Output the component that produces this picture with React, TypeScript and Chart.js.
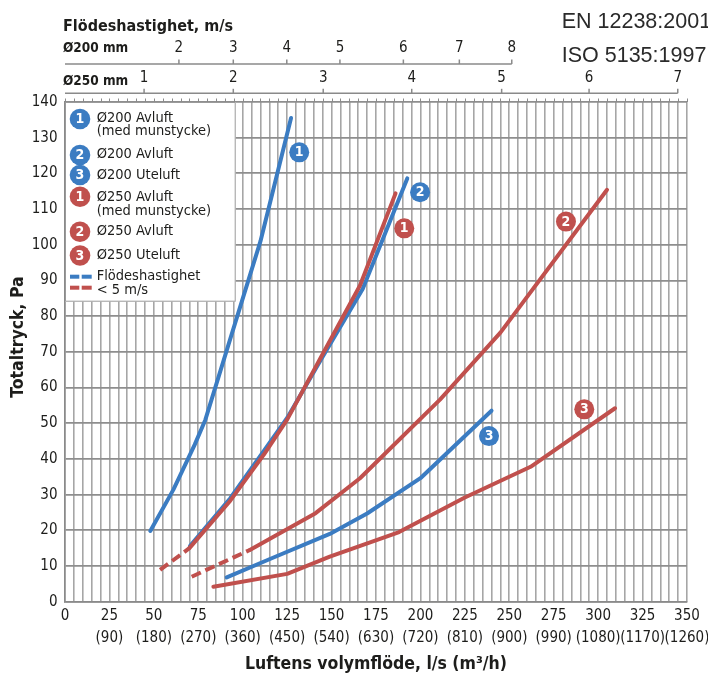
import { useEffect, useRef } from 'react';
import { Chart, registerables } from 'chart.js';

Chart.register(...registerables);

// ---------- data ----------
const flowLabelValues = [0, 25, 50, 75, 100, 125, 150, 175, 200, 225, 250, 275, 300, 325, 350];
const flowLabelM3h = ['', '(90)', '(180)', '(270)', '(360)', '(450)', '(540)', '(630)', '(720)', '(810)', '(900)', '(990)', '(1080)', '(1170)', '(1260)'];
const flowGridStep = 5;
const pressureTicks = [0, 10, 20, 30, 40, 50, 60, 70, 80, 90, 100, 110, 120, 130, 140];

// top velocity axes (velocity label, flow in l/s where it sits)
const v200Labels = ['2', '3', '4', '5', '6', '7', '8'];
const v200Flows = [64.1, 94.7, 124.8, 154.7, 190.4, 221.9, 251.4];
const v250Labels = ['1', '2', '3', '4', '5', '6', '7'];
const v250Flows = [44.5, 94.7, 145.3, 195.1, 245.7, 294.9, 344.8];

// curves (flow l/s, pressure Pa)
const blue1X = [48, 61, 73, 79, 92, 110, 127.2];
const blue1Y = [19.8, 31.4, 44, 51, 72, 101, 135.5];
const blue2X = [70.3, 93, 112, 125, 144, 167.5, 192.6];
const blue2Y = [15.6, 29, 42.3, 51.5, 67.8, 87.6, 118.6];
const blue3X = [91, 115, 149, 170, 200, 240];
const blue3Y = [6.8, 11.9, 19, 24.7, 34.6, 53.5];
const red1DashX = [53.5, 70];
const red1DashY = [8.9, 15];
const red1X = [70, 93, 112, 125, 143.5, 166, 186];
const red1Y = [15, 28.3, 41.3, 51, 68, 88.6, 114.4];
const red2DashX = [71.3, 104];
const red2DashY = [7, 14.5];
const red2X = [104, 141, 166, 211, 245, 305];
const red2Y = [14.5, 24.8, 34.6, 56.6, 75.4, 115.4];
const red3X = [83.5, 125, 149, 188, 225, 262, 309.5];
const red3Y = [4.2, 7.8, 12.6, 19.5, 29.2, 37.8, 54.2];

// numbered tags on the curves
const tagX = [131.8, 199.8, 238.6, 190.9, 281.9, 292.2];
const tagY = [125.9, 114.7, 46.4, 104.6, 106.5, 53.9];
const tagNum = ['1', '2', '3', '1', '2', '3'];
const tagSeries = ['blue', 'blue', 'blue', 'red', 'red', 'red'];

// legend
const legendNum = ['1', '2', '3', '1', '2', '3'];
const legendSeries = ['blue', 'blue', 'blue', 'red', 'red', 'red'];
const legendText = [
  ['Ø200 Avluft', '(med munstycke)'],
  ['Ø200 Avluft'],
  ['Ø200 Uteluft'],
  ['Ø250 Avluft', '(med munstycke)'],
  ['Ø250 Avluft'],
  ['Ø250 Uteluft'],
];
const legendDashText = ['Flödeshastighet', '< 5 m/s'];

// ---------- styles ----------
const BLUE = '#3b7cc2';
const RED = '#c0504d';
const TEXT = '#1d1d1b';
const FONT = "'DejaVu Sans Condensed', 'DejaVu Sans', sans-serif";
const col = (s: string) => (s === 'blue' ? BLUE : RED);

const pts = (xs: number[], ys: number[]) => xs.map((x, i) => ({ x, y: ys[i] }));

const lineDs = (xs: number[], ys: number[], color: string, dashed = false) => ({
  data: pts(xs, ys),
  showLine: true,
  borderColor: color,
  backgroundColor: color,
  borderWidth: 4,
  pointRadius: 0,
  tension: 0,
  borderDash: dashed ? [10, 5] : [],
  borderCapStyle: dashed ? 'butt' : 'round',
  borderJoinStyle: 'round',
});

const overlayPlugin = {
  id: 'overlay',
  afterDatasetsDraw(chart: any) {
    const { ctx, scales } = chart;
    const xs = scales.x;
    const ys = scales.y;
    ctx.save();
    tagX.forEach((v, i) => {
      const px = xs.getPixelForValue(v);
      const py = ys.getPixelForValue(tagY[i]);
      ctx.beginPath();
      ctx.arc(px, py, 10, 0, Math.PI * 2);
      ctx.fillStyle = col(tagSeries[i]);
      ctx.fill();
      ctx.fillStyle = '#fff';
      ctx.font = `bold 14px ${FONT}`;
      ctx.textAlign = 'center';
      ctx.textBaseline = 'middle';
      ctx.fillText(tagNum[i], px, py + 0.5);
    });
    ctx.restore();
  },
  afterDraw(chart: any) {
    const { ctx, scales, chartArea } = chart;
    const xs = scales.x;
    ctx.save();

    // small ticks on top edge
    ctx.strokeStyle = '#8a8a8a';
    ctx.lineWidth = 1;
    for (let v = 0; v <= 350; v += flowGridStep) {
      const px = Math.round(xs.getPixelForValue(v)) + 0.5;
      ctx.beginPath();
      ctx.moveTo(px, chartArea.top - 3.5);
      ctx.lineTo(px, chartArea.top);
      ctx.stroke();
    }

    // y-axis title
    ctx.save();
    ctx.translate(10, 329);
    ctx.rotate(-Math.PI / 2);
    ctx.fillStyle = TEXT;
    ctx.font = `bold 17.5px ${FONT}`;
    ctx.textAlign = 'center';
    ctx.textBaseline = 'middle';
    ctx.fillText('Totaltryck, Pa', 0, 0);
    ctx.restore();

    // top velocity axes
    ctx.fillStyle = TEXT;
    ctx.textBaseline = 'middle';
    ctx.textAlign = 'left';
    ctx.font = `bold 16px ${FONT}`;
    ctx.fillText('Flödeshastighet, m/s', 55, 18.7);
    ctx.font = `bold 13.5px ${FONT}`;
    ctx.fillText('Ø200 mm', 55, 40);
    ctx.fillText('Ø250 mm', 55, 73.7);

    const drawAxis = (labels: string[], flows: number[], lineY: number, labelY: number) => {
      ctx.strokeStyle = '#8a8a8a';
      ctx.lineWidth = 1.5;
      ctx.beginPath();
      ctx.moveTo(xs.getPixelForValue(0), lineY);
      ctx.lineTo(xs.getPixelForValue(flows[flows.length - 1]), lineY);
      ctx.stroke();
      ctx.font = `15px ${FONT}`;
      ctx.textAlign = 'center';
      flows.forEach((f, i) => {
        const px = xs.getPixelForValue(f);
        ctx.beginPath();
        ctx.moveTo(px, lineY - 4.5);
        ctx.lineTo(px, lineY);
        ctx.stroke();
        ctx.fillText(labels[i], px, labelY);
      });
    };
    drawAxis(v200Labels, v200Flows, 56, 40.3);
    drawAxis(v250Labels, v250Flows, 85.3, 70.3);

    // standards
    ctx.textAlign = 'left';
    ctx.textBaseline = 'alphabetic';
    ctx.fillStyle = '#2a2a2a';
    ctx.font = "21.5px 'Liberation Sans', Arial, sans-serif";
    ctx.fillText('EN 12238:2001', 553.7, 20.3);
    ctx.fillText('ISO 5135:1997', 553.7, 53.7);

    // legend box
    const lx = chartArea.left;
    const ly = chartArea.top;
    const lw = 170.7;
    const lh = 199.7;
    ctx.fillStyle = '#fff';
    ctx.fillRect(lx, ly, lw, lh);
    ctx.strokeStyle = '#9a9a9a';
    ctx.lineWidth = 1;
    ctx.strokeRect(lx + 0.5, ly + 0.5, lw - 1, lh - 1);

    const circleY = [111, 147, 167, 188.7, 223.7, 247.5];
    const textY = [
      [110, 123.5],
      [146.5],
      [167],
      [189, 203],
      [223.5],
      [247.5],
    ];
    legendNum.forEach((n, i) => {
      ctx.beginPath();
      ctx.arc(72, circleY[i], 10.3, 0, Math.PI * 2);
      ctx.fillStyle = col(legendSeries[i]);
      ctx.fill();
      ctx.fillStyle = '#fff';
      ctx.font = `bold 14px ${FONT}`;
      ctx.textAlign = 'center';
      ctx.textBaseline = 'middle';
      ctx.fillText(n, 72, circleY[i] + 0.5);
      ctx.fillStyle = TEXT;
      ctx.font = `14.5px ${FONT}`;
      ctx.textAlign = 'left';
      legendText[i].forEach((t, j) => ctx.fillText(t, 88.7, textY[i][j]));
    });
    // dash samples
    ctx.fillStyle = BLUE;
    ctx.fillRect(62, 266.7, 9.3, 4);
    ctx.fillRect(73.7, 266.7, 10, 4);
    ctx.fillStyle = RED;
    ctx.fillRect(62, 277.7, 9.3, 4);
    ctx.fillRect(73.7, 277.7, 10, 4);
    ctx.fillStyle = TEXT;
    ctx.font = `14.5px ${FONT}`;
    ctx.fillText(legendDashText[0], 88.7, 268);
    ctx.fillText(legendDashText[1], 88.7, 282);

    ctx.restore();
  },
};

export default function App() {
  const ref = useRef<HTMLCanvasElement | null>(null);

  useEffect(() => {
    document.documentElement.style.overflow = 'hidden';
    const canvas = ref.current;
    if (!canvas) return;
    const gridFlows: number[] = [];
    for (let v = 0; v <= 350; v += flowGridStep) gridFlows.push(v);

    const chart = new Chart(canvas, {
      type: 'scatter',
      data: {
        datasets: [
          lineDs(red1X, red1Y, RED),
          lineDs(red1DashX, red1DashY, RED, true),
          lineDs(red2X, red2Y, RED),
          lineDs(red2DashX, red2DashY, RED, true),
          lineDs(red3X, red3Y, RED),
          lineDs(blue1X, blue1Y, BLUE),
          lineDs(blue2X, blue2Y, BLUE),
          lineDs(blue3X, blue3Y, BLUE),
        ] as any,
      },
      options: {
        animation: false,
        responsive: true,
        maintainAspectRatio: false,
        layout: { padding: { top: 94, right: 21, left: 0, bottom: 0 } },
        plugins: { legend: { display: false }, tooltip: { enabled: false } },
        scales: {
          x: {
            type: 'linear',
            min: 0,
            max: 350,
            afterBuildTicks: (s: any) => {
              s.ticks = gridFlows.map((v) => ({ value: v }));
            },
            afterFit: (s: any) => {
              s.height = 73.3;
              s.paddingLeft = 0;
              s.paddingRight = 0;
            },
            ticks: {
              autoSkip: false,
              maxRotation: 0,
              minRotation: 0,
              padding: 3.3,
              color: TEXT,
              font: { family: FONT, size: 15, lineHeight: 22 / 15 },
              callback: (v: any) => {
                const i = flowLabelValues.indexOf(Number(v));
                if (i < 0) return '';
                return flowLabelM3h[i] ? [String(flowLabelValues[i]), flowLabelM3h[i]] : String(flowLabelValues[i]);
              },
            },
            grid: { color: '#a6a6a6', lineWidth: 1.6, drawTicks: false },
            border: { color: '#8a8a8a', width: 1.6 },
            title: {
              display: true,
              text: 'Luftens volymflöde, l/s (m³/h)',
              color: TEXT,
              font: { family: FONT, size: 17.5, weight: 'bold' },
              padding: { top: 0, bottom: 0.5 },
            },
          },
          y: {
            type: 'linear',
            min: 0,
            max: 140,
            afterBuildTicks: (s: any) => {
              s.ticks = pressureTicks.map((v) => ({ value: v }));
            },
            afterFit: (s: any) => {
              s.width = 57;
              s.paddingTop = 0;
              s.paddingBottom = 0;
            },
            ticks: {
              padding: 7.5,
              color: TEXT,
              font: { family: FONT, size: 15 },
            },
            grid: { color: '#8e8e8e', lineWidth: 1.8, drawTicks: false },
            border: { color: '#8a8a8a', width: 1.6 },
            title: { display: false },
          },
        },
      } as any,
      plugins: [overlayPlugin],
    });
    return () => chart.destroy();
  }, []);

  return (
    <div style={{ position: 'relative', width: 700, height: 667 }}>
      <canvas ref={ref} />
    </div>
  );
}
